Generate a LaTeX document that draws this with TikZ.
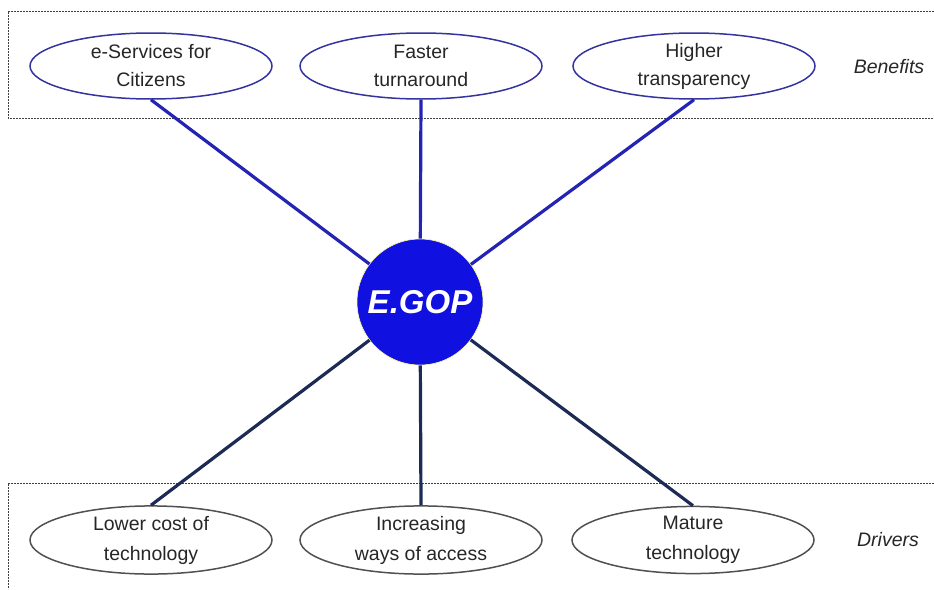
\documentclass[tikz,border=0pt]{standalone}
\usepackage{fontspec}
\setmainfont{Liberation Sans}
\usetikzlibrary{shapes.geometric}
\definecolor{txt}{HTML}{262626}
\definecolor{topedge}{HTML}{3434A0}
\definecolor{topline}{HTML}{2424B4}
\definecolor{botline}{HTML}{1C2A55}
\definecolor{botedge}{HTML}{505050}
\definecolor{hub}{HTML}{1010E0}
\definecolor{boxline}{HTML}{404040}
\tikzset{
  oval/.style={ellipse, draw, line width=1.5pt, minimum width=242pt, minimum height=66pt, inner sep=0pt,
    align=center, text=txt, font=\fontsize{19.5}{28}\selectfont},
  benefit/.style={oval, draw=topedge},
  driver/.style={oval, draw=botedge, font=\fontsize{19.5}{30}\selectfont},
  tag/.style={text=txt, font=\fontsize{19.5}{22}\selectfont\itshape},
  upline/.style={draw=topline, line width=3.2pt},
  downline/.style={draw=botline, line width=3.2pt},
  frame/.style={draw=boxline, line width=1pt, dash pattern=on 2pt off 1pt},
}
\begin{document}
\begin{tikzpicture}[x=1pt,y=-1pt]
\useasboundingbox (0,0) rectangle (934,589);
% frames
\draw[frame] (934,11) -- (8,11) -- (8,118) -- (934,118);
\draw[frame] (934,483) -- (8,483) -- (8,589);
% hub
\node[circle, fill=hub, draw=yellow!40!white, line width=0.6pt, minimum size=126pt, inner sep=0pt,
  text=white, font=\fontsize{33}{36}\selectfont\bfseries\itshape] (hub) at (420,302) {E.GOP};
% benefits
\node[benefit] (b1) at (151,66) {e-Services for\\Citizens};
\node[benefit] (b2) at (421,66) {Faster\\turnaround};
\node[benefit] (b3) at (694,66) {Higher\\transparency};
\node[tag] (benefits) at (889,67) {Benefits};
% drivers
\node[driver] (d1) at (151,540) {Lower cost of\\technology};
\node[driver] (d2) at (421,540) {Increasing\\ways of access};
\node[driver] (d3) at (693,540) {Mature\\technology};
\node[tag] (drivers) at (888,540) {Drivers};
% connectors
\draw[upline] (b1.south) -- (hub);
\draw[upline] (b2.south) -- (hub);
\draw[upline] (b3.south) -- (hub);
\draw[downline] (hub) -- (d1.north);
\draw[downline] (hub) -- (d2.north);
\draw[downline] (hub) -- (d3.north);
\end{tikzpicture}
\end{document}
